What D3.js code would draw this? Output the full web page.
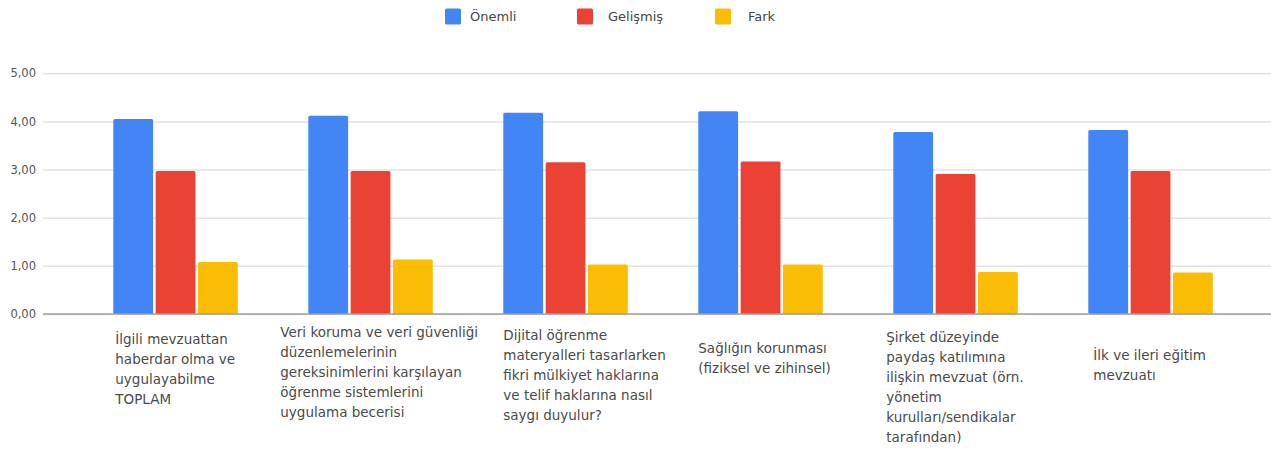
<!DOCTYPE html>
<html>
<head>
<meta charset="utf-8">
<script src="https://cdn.jsdelivr.net/npm/d3@7/dist/d3.min.js"></script>
<style>
  html, body { margin: 0; padding: 0; background: #fff; }
  svg { display: block; }
  text { font-family: "DejaVu Sans", Verdana, sans-serif; }
</style>
</head>
<body>
<svg id="chart" width="1271" height="450"></svg>
<script>
// Category labels, one entry per wrapped line
const categories = [
  ["İlgili mevzuattan", "haberdar olma ve", "uygulayabilme", "TOPLAM"],
  ["Veri koruma ve veri güvenliği", "düzenlemelerinin", "gereksinimlerini karşılayan", "öğrenme sistemlerini", "uygulama becerisi"],
  ["Dijital öğrenme", "materyalleri tasarlarken", "fikri mülkiyet haklarına", "ve telif haklarına nasıl", "saygı duyulur?"],
  ["Sağlığın korunması", "(fiziksel ve zihinsel)"],
  ["Şirket düzeyinde", "paydaş katılımına", "ilişkin mevzuat (örn.", "yönetim", "kurulları/sendikalar", "tarafından)"],
  ["İlk ve ileri eğitim", "mevzuatı"]
];

const seriesNames = ["Önemli", "Gelişmiş", "Fark"];
const onemli   = [4.05, 4.12, 4.18, 4.21, 3.78, 3.82];
const gelismis = [2.97, 2.97, 3.15, 3.17, 2.91, 2.97];
const fark     = [1.08, 1.13, 1.03, 1.03, 0.87, 0.86];
const yTicks   = [0, 1, 2, 3, 4, 5];

const colors = ["#4285f4", "#ea4335", "#fbbc04"];

// Label block placement relative to group centre (x) and first baseline (y)
const labelLayout = [
  { dx: -60, y: 344 },
  { dx: -90, y: 337 },
  { dx: -62, y: 340 },
  { dx: -62, y: 353 },
  { dx: -69, y: 342 },
  { dx: -57, y: 360 }
];
const legendLayout = [
  { box: 445, text: 470 },
  { box: 577, text: 608 },
  { box: 715, text: 748 }
];

const svg = d3.select("#chart");
const gridLeft = 43, gridRight = 1271;
const plotTop = 73.3, plotBottom = 314;

const values = [onemli, gelismis, fark];
const rows = categories.map((c, i) => ({
  i,
  vals: seriesNames.map((s, k) => ({ key: s, k, v: values[k][i] }))
}));

const x0 = d3.scaleBand().domain(d3.range(categories.length)).range([77.8, 1247.8]).padding(0);
const bw = x0.bandwidth();
const x1 = d3.scaleBand().domain(seriesNames).range([bw / 2 - 62, bw / 2 + 62.5]).paddingInner(0.06);
const y = d3.scaleLinear().domain([0, 5]).range([plotBottom, plotTop]);

// Horizontal gridlines and y tick labels
const yAxis = d3.axisLeft(y)
  .tickValues(yTicks)
  .tickSize(-(gridRight - gridLeft))
  .tickPadding(7)
  .tickFormat(d => d3.format(".2f")(d).replace(".", ","));

const gy = svg.append("g").attr("transform", `translate(${gridLeft},0)`).call(yAxis);
gy.select(".domain").remove();
gy.selectAll(".tick line").attr("stroke", "#e3e3e3").attr("stroke-width", 1.5);
gy.selectAll(".tick text")
  .attr("fill", "#555")
  .style("font-size", "11.5px")
  .attr("x", -7);

// Bars
const groups = svg.append("g").selectAll("g")
  .data(rows)
  .join("g")
  .attr("transform", d => `translate(${x0(d.i)},0)`);

groups.selectAll("rect")
  .data(d => d.vals)
  .join("rect")
  .attr("x", d => x1(d.key))
  .attr("width", x1.bandwidth())
  .attr("y", d => y(d.v))
  .attr("height", d => y(0) - y(d.v))
  .attr("rx", 1.5)
  .attr("fill", d => colors[d.k]);

// Baseline
svg.append("line")
  .attr("x1", gridLeft).attr("x2", gridRight)
  .attr("y1", y(0)).attr("y2", y(0))
  .attr("stroke", "#9e9e9e").attr("stroke-width", 1.5);

// Category labels
const labels = svg.append("g").selectAll("text")
  .data(categories)
  .join("text")
  .attr("x", (d, i) => x0(i) + bw / 2 + labelLayout[i].dx)
  .attr("y", (d, i) => labelLayout[i].y)
  .attr("fill", "#4a4a4a")
  .style("font-size", "13.5px");

labels.selectAll("tspan")
  .data(d => d)
  .join("tspan")
  .attr("x", function () { return d3.select(this.parentNode).attr("x"); })
  .attr("dy", (d, j) => j === 0 ? 0 : 20)
  .text(d => d);

// Legend
const legend = svg.append("g").selectAll("g")
  .data(seriesNames)
  .join("g");

legend.append("rect")
  .attr("x", (d, i) => legendLayout[i].box)
  .attr("y", 8.5)
  .attr("width", 16)
  .attr("height", 16)
  .attr("rx", 1.5)
  .attr("fill", (d, i) => colors[i]);

legend.append("text")
  .attr("x", (d, i) => legendLayout[i].text)
  .attr("y", 16.5)
  .attr("dy", "0.35em")
  .attr("fill", "#444")
  .style("font-size", "13px")
  .text(d => d);
</script>
</body>
</html>
